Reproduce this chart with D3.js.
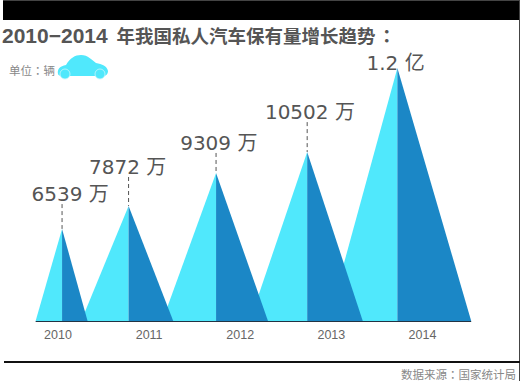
<!DOCTYPE html>
<meta charset="utf-8">
<style>
html, body { margin: 0; padding: 0; background: #fff; }
svg { display: block; }
text { font-family: "Liberation Sans", "Noto Sans CJK SC", sans-serif; }
.value { font-family: "DejaVu Sans", "Noto Sans CJK SC", sans-serif; font-size: 20px; fill: #555; }
.tick text { font-size: 12.5px; fill: #666; }
.colon { font-family: "Noto Sans CJK TC", sans-serif; }
</style>
<body>
<script src="https://d3js.org/d3.v7.min.js"></script>
<script>

var years = [2010, 2011, 2012, 2013, 2014];
var valueLabels = ["6539 万", "7872 万", "9309 万", "10502 万", "1.2 亿"];

// The cones are not to scale with the values, so these are read off the picture:
// height as % of the tallest cone, and positions along the year axis
var peakHeight = [36.4, 45.5, 58.5, 66.8, 100];
var labelHeight = [47.4, 58.1, 67.6, 79.8, 99.2];
var peakAt = [2010.05, 2010.78, 2011.74, 2012.74, 2013.73];
var baseLeft = [2009.76, 2010.26, 2011.15, 2012.11, 2012.97];
var baseRight = [2010.33, 2011.27, 2012.31, 2013.35, 2014.54];
var labelAt = [2010.14, 2010.77, 2011.77, 2012.77, 2013.71];

var svg = d3.select("body").append("svg")
    .attr("width", 520)
    .attr("height", 384);

var x = d3.scaleLinear().domain([2010, 2014]).range([57.5, 422]);
var y = d3.scaleLinear().domain([0, 100]).range([321, 68]);

// Frame
svg.append("rect").attr("x", 3).attr("y", 0).attr("width", 517).attr("height", 20).attr("fill", "#000");
svg.append("rect").attr("x", 3).attr("y", 0).attr("width", 517).attr("height", 1).attr("fill", "#444");
svg.append("rect").attr("x", 519).attr("y", 0).attr("width", 1).attr("height", 381).attr("fill", "#444");
svg.append("rect").attr("x", 4).attr("y", 361).attr("width", 516).attr("height", 2).attr("fill", "#111");

// Title, the latin part is larger than the CJK part in the original
var title = svg.append("text")
    .attr("x", 2).attr("y", 43)
    .attr("font-weight", "bold").attr("fill", "#555");
title.append("tspan").attr("font-size", 21).text("2010−2014 ");
title.append("tspan").attr("font-size", 18.5).attr("dx", 3).text("年我国私人汽车保有量增长趋势");
title.append("tspan").attr("class", "colon").attr("font-size", 18.5).attr("dx", 2).text("：");

var unit = svg.append("text")
    .attr("x", 9).attr("y", 75)
    .attr("font-size", 11.5).attr("fill", "#888");
unit.append("tspan").text("单位");
unit.append("tspan").attr("class", "colon").text("：");
unit.append("tspan").text("辆");

// Car icon
var car = svg.append("g").attr("fill", "#50e8fc");
car.append("path")
    .attr("d", "M58,74 C57,69 60,66 66,65 C70,58 75,55 81,55 C88,55 92,60 96,63 C102,64 107,66 108,71 C108,74 106,76 103,76 L62,76 C60,76 58,75 58,74 Z");
car.selectAll("circle")
    .data([65, 100])
    .enter().append("circle")
    .attr("cx", function(d) { return d; })
    .attr("cy", 74)
    .attr("r", 5)
    .attr("stroke", "#c8f6fd")
    .attr("stroke-width", 0.8);

// Cones, last year first so earlier ones sit on top
var order = d3.range(years.length).reverse();
var line = d3.line();

var cones = svg.selectAll(".cone")
    .data(order)
  .enter().append("g")
    .attr("class", "cone");

cones.append("path")
    .attr("fill", "#50e8fc")
    .attr("d", function(i) {
      return line([[x(baseLeft[i]), y(0)], [x(peakAt[i]), y(peakHeight[i])], [x(peakAt[i]), y(0)]]) + "Z";
    });

cones.append("path")
    .attr("fill", "#1b87c6")
    .attr("d", function(i) {
      return line([[x(peakAt[i]), y(0)], [x(peakAt[i]), y(peakHeight[i])], [x(baseRight[i]), y(0)]]) + "Z";
    });

// Leaders from label to peak, only where the label sits above the peak
svg.selectAll(".leader")
    .data(d3.range(years.length).filter(function(i) { return labelHeight[i] > peakHeight[i]; }))
  .enter().append("line")
    .attr("class", "leader")
    .attr("x1", function(i) { return x(peakAt[i]); })
    .attr("x2", function(i) { return x(peakAt[i]); })
    .attr("y1", function(i) { return y(labelHeight[i]) + 3; })
    .attr("y2", function(i) { return y(peakHeight[i]); })
    .attr("stroke", "#555")
    .attr("stroke-dasharray", "4,3");

svg.selectAll(".value")
    .data(valueLabels)
  .enter().append("text")
    .attr("class", "value")
    .attr("text-anchor", "middle")
    .attr("x", function(d, i) { return x(labelAt[i]); })
    .attr("y", function(d, i) { return y(labelHeight[i]); })
    .text(function(d) { return d; });

// Baseline and year labels
svg.append("line")
    .attr("x1", x(baseLeft[0])).attr("x2", x(d3.max(baseRight)))
    .attr("y1", y(0) + 0.5).attr("y2", y(0) + 0.5)
    .attr("stroke", "#234");

svg.append("g")
    .attr("transform", "translate(0," + y(0) + ")")
    .call(d3.axisBottom(x).tickValues(years).tickFormat(d3.format("d")).tickSize(0).tickPadding(9))
    .call(function(g) { g.select(".domain").remove(); })
    .selectAll("text").style("font-family", "'Liberation Sans'");

var source = svg.append("text")
    .attr("x", 516).attr("y", 379)
    .attr("text-anchor", "end")
    .attr("font-size", 11.5).attr("fill", "#888");
source.append("tspan").text("数据来源");
source.append("tspan").attr("class", "colon").text("：");
source.append("tspan").text("国家统计局");

</script>
</body>
